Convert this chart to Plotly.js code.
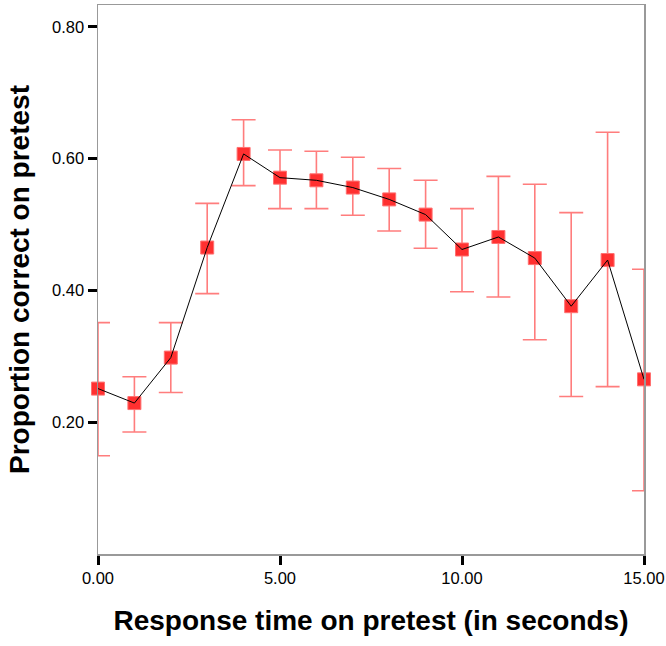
<!DOCTYPE html>
<html>
<head>
<meta charset="utf-8">
<script src="https://cdn.plot.ly/plotly-3.0.1.min.js"></script>
<style>html,body{margin:0;padding:0;background:#fff;}#chart{width:666px;height:646px;}</style>
</head>
<body>
<div id="chart"></div>
<script>
const responseTime = [0,1,2,3,4,5,6,7,8,9,10,11,12,13,14,15];
const proportion   = [0.251,0.229,0.298,0.465,0.607,0.571,0.567,0.556,0.538,0.515,0.462,0.481,0.449,0.376,0.446,0.265];
const upperBound   = [0.351,0.269,0.351,0.532,0.659,0.613,0.611,0.602,0.585,0.567,0.524,0.573,0.561,0.518,0.640,0.432];
const lowerBound   = [0.149,0.185,0.245,0.395,0.559,0.524,0.524,0.514,0.490,0.464,0.398,0.390,0.325,0.239,0.254,0.096];
const yTicks = [0.2,0.4,0.6,0.8];
const xTicks = [0,5,10,15];

const plus = upperBound.map((u,i)=>u-proportion[i]);
const minus = proportion.map((p,i)=>p-lowerBound[i]);

const traces = [
  {
    x: responseTime, y: proportion, type:'scatter', mode:'markers',
    cliponaxis:false,
    marker:{symbol:'square', size:13, color:'#ff3030', line:{color:'#ff7070', width:1}},
    error_y:{type:'data', symmetric:false, array:plus, arrayminus:minus, color:'rgba(255,70,70,0.7)', thickness:1.6, width:12},
    hoverinfo:'skip', showlegend:false
  },
  {
    x: responseTime, y: proportion, type:'scatter', mode:'lines',
    cliponaxis:false,
    line:{color:'#000', width:1},
    hoverinfo:'skip', showlegend:false
  }
];

const fontFam = 'Liberation Sans, Arial, sans-serif';
const layout = {
  width:666, height:646,
  margin:{l:98, r:22, t:5, b:92},
  paper_bgcolor:'#fff', plot_bgcolor:'#fff',
  font:{family:fontFam, color:'#000'},
  showlegend:false,
  xaxis:{
    range:[0,15], tickvals:xTicks, ticktext:xTicks.map(v=>v.toFixed(2)),
    showgrid:false, zeroline:false, showline:true, linecolor:'#999', linewidth:1.5, mirror:true,
    ticks:'outside', ticklen:9, tickwidth:3, tickcolor:'#000',
    tickfont:{size:16.5, family:fontFam},
    title:{text:'<b>Response time on pretest (in seconds)</b>', font:{size:28, family:fontFam}, standoff:24}
  },
  yaxis:{
    range:[0,0.833], tickvals:yTicks, ticktext:yTicks.map(v=>v.toFixed(2)),
    showgrid:false, zeroline:false, showline:true, linecolor:'#999', linewidth:1.5, mirror:true,
    ticks:'outside', ticklen:9, tickwidth:3, tickcolor:'#000',
    tickfont:{size:16.5, family:fontFam},
    title:{text:'<b>Proportion correct on pretest</b>', font:{size:28, family:fontFam}, standoff:14}
  }
};
Plotly.newPlot('chart', traces, layout, {displayModeBar:false, staticPlot:true});
</script>
</body>
</html>
